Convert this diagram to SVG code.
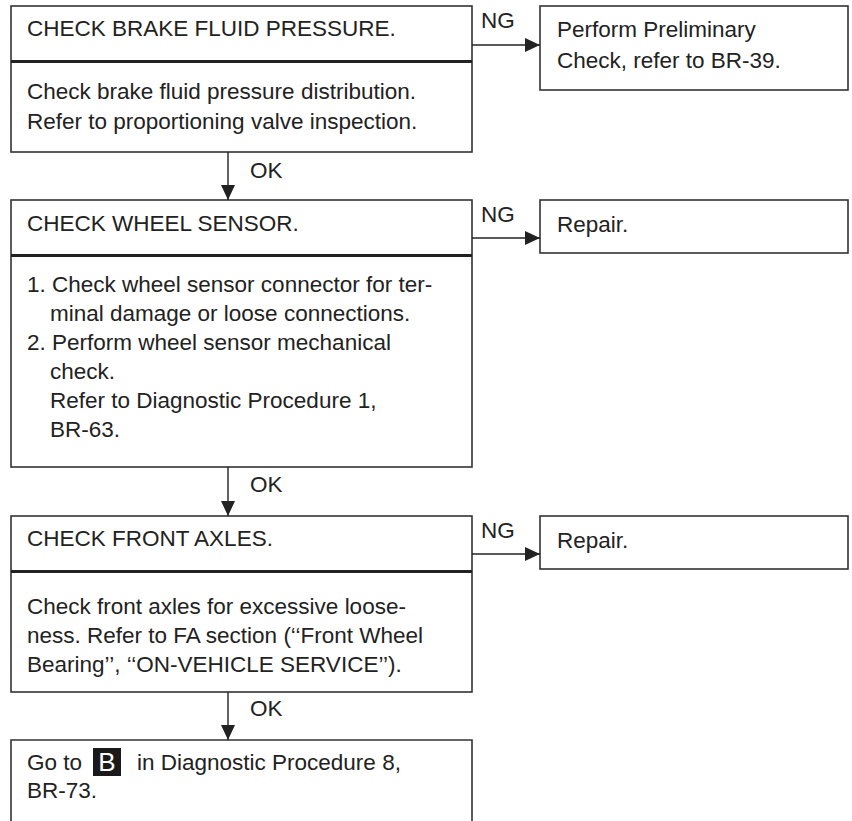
<svg xmlns="http://www.w3.org/2000/svg" width="852" height="821" viewBox="0 0 852 821">
<style>
.box{fill:#fff;stroke:#333;stroke-width:1.6}
.div{stroke:#222;stroke-width:3}
.con{stroke:#222;stroke-width:1.4;fill:none}
text{font-family:"Liberation Sans",Arial,sans-serif;font-size:22.5px;fill:#222}
</style>
<defs>
<marker id="ah" markerUnits="userSpaceOnUse" markerWidth="15" markerHeight="14" refX="15" refY="7" orient="auto">
<path d="M0,0 L15,7 L0,14 z" fill="#222"/>
</marker>
</defs>
<rect width="852" height="821" fill="#fff"/>
<g id="n1">
<rect class="box" x="11" y="6" width="461" height="146"/>
<line class="div" x1="11" y1="61.5" x2="472" y2="61.5"/>
<text x="27" y="36">CHECK BRAKE FLUID PRESSURE.</text>
<text x="27" y="99">Check brake fluid pressure distribution.</text>
<text x="27" y="129">Refer to proportioning valve inspection.</text>
</g>
<g id="r1">
<rect class="box" x="540" y="6" width="308" height="84"/>
<text x="557" y="37">Perform Preliminary</text>
<text x="557" y="68">Check, refer to BR-39.</text>
</g>
<g id="n2">
<rect class="box" x="11" y="200" width="461" height="267"/>
<line class="div" x1="11" y1="255.5" x2="472" y2="255.5"/>
<text x="27" y="231">CHECK WHEEL SENSOR.</text>
<text x="27" y="292">1. Check wheel sensor connector for ter-</text>
<text x="50" y="321">minal damage or loose connections.</text>
<text x="27" y="350">2. Perform wheel sensor mechanical</text>
<text x="50" y="379">check.</text>
<text x="50" y="408">Refer to Diagnostic Procedure 1,</text>
<text x="50" y="437">BR-63.</text>
</g>
<g id="r2">
<rect class="box" x="540" y="200" width="308" height="53"/>
<text x="557" y="232">Repair.</text>
</g>
<g id="n3">
<rect class="box" x="11" y="516" width="461" height="176"/>
<line class="div" x1="11" y1="571.5" x2="472" y2="571.5"/>
<text x="27" y="546">CHECK FRONT AXLES.</text>
<text x="27" y="614">Check front axles for excessive loose-</text>
<text x="27" y="643">ness. Refer to FA section (‘‘Front Wheel</text>
<text x="27" y="672">Bearing’’, ‘‘ON-VEHICLE SERVICE’’).</text>
</g>
<g id="r3">
<rect class="box" x="540" y="516" width="308" height="53"/>
<text x="557" y="548">Repair.</text>
</g>
<g id="n4">
<path class="box" d="M11,822 V740 H472 V822"/>
<text x="27" y="770">Go to</text>
<rect x="93" y="748" width="28" height="28" fill="#1a1a1a"/>
<text x="107" y="771" text-anchor="middle" style="fill:#fff;font-size:26px">B</text>
<text x="137" y="770">in Diagnostic Procedure 8,</text>
<text x="27" y="798">BR-73.</text>
</g>
<g id="connectors">
<line class="con" x1="228" y1="152" x2="228" y2="200" marker-end="url(#ah)"/>
<line class="con" x1="228" y1="467" x2="228" y2="516" marker-end="url(#ah)"/>
<line class="con" x1="228" y1="692" x2="228" y2="740" marker-end="url(#ah)"/>
<line class="con" x1="472" y1="45" x2="540" y2="45" marker-end="url(#ah)"/>
<line class="con" x1="472" y1="238" x2="540" y2="238" marker-end="url(#ah)"/>
<line class="con" x1="472" y1="554" x2="540" y2="554" marker-end="url(#ah)"/>
<text x="250" y="178">OK</text>
<text x="250" y="492">OK</text>
<text x="250" y="716">OK</text>
<text x="481" y="28">NG</text>
<text x="481" y="222">NG</text>
<text x="481" y="538">NG</text>
</g>
</svg>
